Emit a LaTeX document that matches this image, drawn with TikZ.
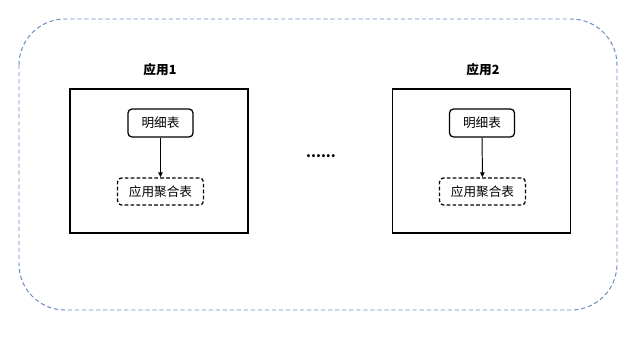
\documentclass[tikz,border=0pt]{standalone}
\usepackage{fontspec}
\setmainfont{Noto Sans CJK SC}
\usetikzlibrary{arrows.meta,positioning}
\definecolor{groupblue}{RGB}{104,140,192}
\tikzset{
  appbox/.style={draw, line width=0.8pt, minimum width=4.45cm, minimum height=3.6cm},
  apptitle/.style={font=\fontsize{9}{10}\selectfont\bfseries},
  detailtbl/.style={draw, line width=0.9pt, rounded corners=3pt, minimum width=1.63cm,
    minimum height=0.7cm, font=\fontsize{9}{10}\selectfont},
  aggtbl/.style={draw, line width=0.9pt, rounded corners=3pt, dash pattern=on 2.6pt off 1.6pt,
    minimum width=2.15cm, minimum height=0.68cm, font=\fontsize{9}{10}\selectfont},
  flow/.style={line width=0.7pt, -{Triangle[length=3.5pt,width=3.2pt]}}
}
\begin{document}
\begin{tikzpicture}[x=0.025cm,y=-0.025cm]
\useasboundingbox (0,0) rectangle (640,341);
\draw[groupblue, line width=0.7pt, dash pattern=on 3pt off 2pt, rounded corners=1.15cm]
  (19,19) rectangle (617,310);

% first application
\node[appbox] (app1) at (159,161) {};
\node[apptitle] (title1) at (160,70) {应用1};
\node[detailtbl] (detail1) at (160.5,123) {明细表};
\node[aggtbl] (agg1) at (160.5,191.5) {应用聚合表};
\draw[flow] (detail1) -- (agg1);

\node[font=\bfseries] (more) at (321,156) {......};

% second application
\node[appbox] (app2) at (481.5,161) {};
\node[apptitle] (title2) at (483,70) {应用2};
\node[detailtbl] (detail2) at (482,123) {明细表};
\node[aggtbl] (agg2) at (482.5,191.5) {应用聚合表};
\draw[flow] (detail2) -- (agg2);

\end{tikzpicture}
\end{document}
